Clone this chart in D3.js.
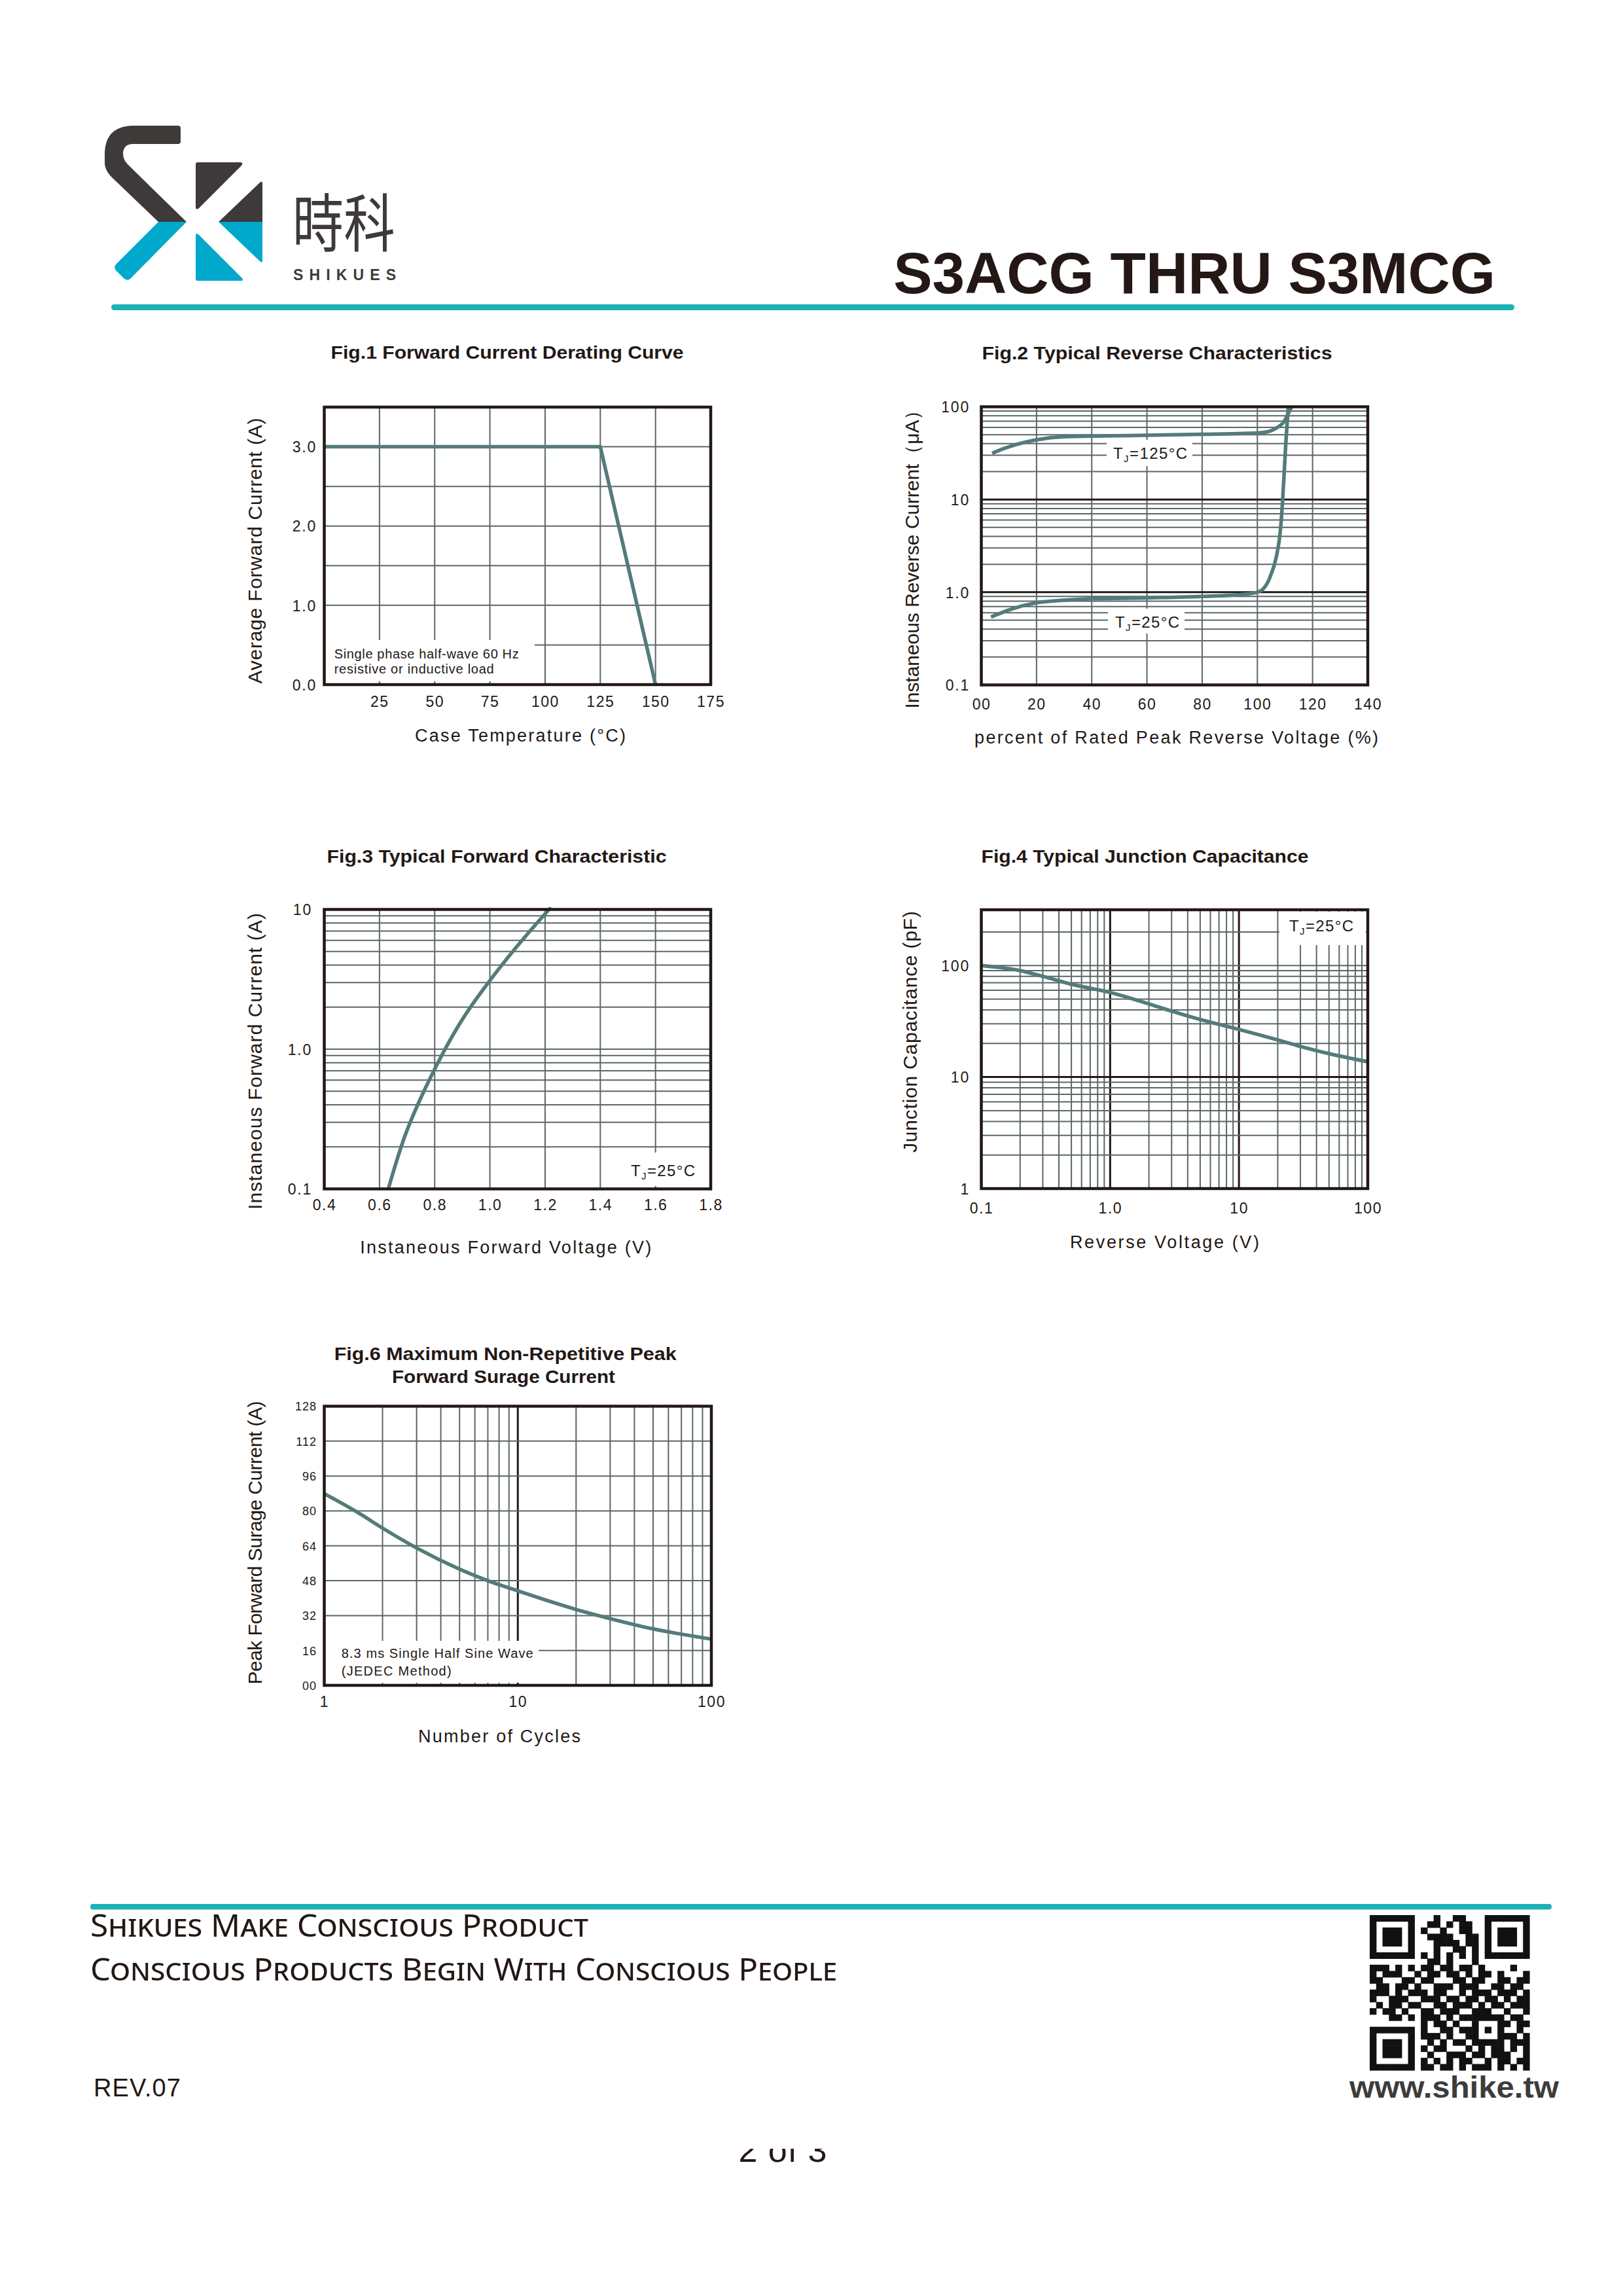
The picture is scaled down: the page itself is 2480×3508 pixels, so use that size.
<!DOCTYPE html>
<html>
<head>
<meta charset="utf-8">
<script src="https://cdn.jsdelivr.net/npm/d3@7"></script>
<style>
  html, body { margin: 0; padding: 0; background: #fff; }
  svg { display: block; background: #fff; }
  text { font-family: "Liberation Sans", Arial, sans-serif; fill: #231815; }
</style>
</head>
<body>
<svg id="page" width="2480" height="3508"></svg>
<script>
// ---------------- data ----------------
// Fig.1 derating curve
const fig1Temp = [0, 125, 150];
const fig1Current = [3.0, 3.0, 0.0];
const fig1XTicks = [25, 50, 75, 100, 125, 150, 175];
const fig1XLabels = ["25", "50", "75", "100", "125", "150", "175"];
const fig1YTicks = [0, 1, 2, 3];
const fig1YLabels = ["0.0", "1.0", "2.0", "3.0"];

// Fig.2 reverse characteristics (% of rated voltage, uA)
const fig2Pct125 = [3.9, 10, 20, 30, 45, 60, 80, 95, 101, 104, 106, 108, 109.5, 110.8, 112.4];
const fig2Cur125 = [31.5, 37, 44, 47.5, 48.5, 49.3, 50.5, 51.5, 52.5, 54, 57, 62, 68, 80, 100];
const fig2Pct25 = [3.5, 10, 20, 30, 40, 60, 80, 95, 100, 101.9, 103.9, 105.1, 106.2, 107.1, 108.3, 109.1, 109.7, 110.3, 111.2];
const fig2Cur25 = [0.54, 0.645, 0.77, 0.82, 0.85, 0.87, 0.90, 0.95, 1.0, 1.07, 1.3, 1.6, 2.0, 2.6, 4.5, 9.3, 19, 40, 100];
const fig2XTicks = [0, 20, 40, 60, 80, 100, 120, 140];
const fig2XLabels = ["00", "20", "40", "60", "80", "100", "120", "140"];
const fig2YTicks = [0.1, 1, 10, 100];
const fig2YLabels = ["0.1", "1.0", "10", "100"];

// Fig.3 forward characteristic (V, A)
const fig3Volt = [0.632, 0.7, 0.8, 0.9, 1.0, 1.1, 1.2, 1.216];
const fig3Cur = [0.1, 0.263, 0.72, 1.63, 3.1, 5.5, 9.3, 10];
const fig3XTicks = [0.4, 0.6, 0.8, 1.0, 1.2, 1.4, 1.6, 1.8];
const fig3XLabels = ["0.4", "0.6", "0.8", "1.0", "1.2", "1.4", "1.6", "1.8"];
const fig3YTicks = [0.1, 1, 10];
const fig3YLabels = ["0.1", "1.0", "10"];

// Fig.4 junction capacitance (V, pF)
const fig4Volt = [0.1, 0.2, 0.3, 0.5, 1, 2, 3, 5, 10, 20, 30, 50, 100];
const fig4Cap = [100, 90, 80, 68, 57.3, 45.3, 39, 32.8, 26.7, 21.5, 18.8, 16.2, 13.7];
const fig4XTicks = [0.1, 1, 10, 100];
const fig4XLabels = ["0.1", "1.0", "10", "100"];
const fig4YTicks = [1, 10, 100];
const fig4YLabels = ["1", "10", "100"];

// Fig.6 surge current (cycles, A)
const fig6Cycles = [1, 1.5, 2, 3, 5, 7, 10, 20, 30, 50, 100];
const fig6Surge = [87.9, 79.1, 72.1, 63, 53.3, 48, 43.3, 34.8, 30.6, 25.9, 21.2];
const fig6XTicks = [1, 10, 100];
const fig6XLabels = ["1", "10", "100"];
const fig6YTicks = [0, 16, 32, 48, 64, 80, 96, 112, 128];
const fig6YLabels = ["00", "16", "32", "48", "64", "80", "96", "112", "128"];

// QR code modules (25 x 25)
const qrRows = [
  "1111111000100110001111111",
  "1000001001101011001000001",
  "1011101010010011001011101",
  "1011101001111001101011101",
  "1011101000111101101011101",
  "1000001000100110101000001",
  "1111111010101010101111111",
  "0000000001101000100000000",
  "1110101011011011010000100",
  "1011100101101101011010001",
  "1100011011000110110011011",
  "0110110100111011100110110",
  "1110101110110010111011101",
  "1001110011101101101101011",
  "0101101100110111010110111",
  "1011010011011100111001001",
  "0001101011101011111110110",
  "0000000010110100100011011",
  "1111111010011011101010010",
  "1000001011101001100011101",
  "1011101001010110111110111",
  "1011101010110001010110101",
  "1011101001001110110111001",
  "1000001010101011001011011",
  "1111111011011010111010101"
];

// ---------------- styling ----------------
const INK = "#231815";
const GRID = "#5b6665";
const CURVE = "#537b79";
const TEAL = "#1cb2b4";

const svg = d3.select("#page");

function addText(g, str, x, y, o) {
  const t = g.append("text")
    .attr("x", x).attr("y", y)
    .attr("font-size", o.size)
    .attr("text-anchor", o.anchor || "start")
    .text(str);
  if (o.bold) t.attr("font-weight", "bold");
  if (o.len) t.attr("textLength", o.len).attr("lengthAdjust", o.adjust || "spacing");
  if (o.family) t.style("font-family", o.family);
  if (o.fill) t.style("fill", o.fill);
  return t;
}

function yTitle(g, str, x, cy, len) {
  g.append("text")
    .attr("transform", `translate(${x},${cy}) rotate(-90)`)
    .attr("text-anchor", "middle")
    .attr("font-size", 30)
    .attr("textLength", len).attr("lengthAdjust", "spacing")
    .text(str);
}

function tjLabel(g, rest, x, y, len) {
  const t = g.append("text").attr("x", x).attr("y", y).attr("font-size", 24)
    .attr("textLength", len).attr("lengthAdjust", "spacing");
  t.append("tspan").text("T");
  t.append("tspan").attr("font-size", 15).attr("dy", 5).text("J");
  t.append("tspan").attr("dy", -5).text(rest);
}

function drawPanel(p) {
  const g = svg.append("g");
  const x = p.x, y = p.y;
  const [L, R] = x.range();
  const [B, T] = y.range();

  // gridlines
  const xg = p.xGrid.filter(d => x(d) > L + 6 && x(d) < R - 6);
  g.append("g").selectAll("line").data(xg).join("line")
    .attr("x1", d => x(d)).attr("x2", d => x(d))
    .attr("y1", T).attr("y2", B)
    .attr("stroke", d => (p.xMajor || []).includes(d) ? INK : GRID)
    .attr("stroke-width", d => (p.xMajor || []).includes(d) ? 3 : 2);
  const yg = p.yGrid.filter(d => y(d) < B - 6 && y(d) > T + 6);
  g.append("g").selectAll("line").data(yg).join("line")
    .attr("y1", d => y(d)).attr("y2", d => y(d))
    .attr("x1", L).attr("x2", R)
    .attr("stroke", d => (p.yMajor || []).includes(d) ? INK : GRID)
    .attr("stroke-width", d => (p.yMajor || []).includes(d) ? 3 : 2);

  // white boxes behind annotations
  (p.boxes || []).forEach(b => {
    g.append("rect").attr("x", b[0]).attr("y", b[1])
      .attr("width", b[2] - b[0]).attr("height", b[3] - b[1]).attr("fill", "#fff");
  });

  // curves
  const line = d3.line()
    .x(d => x(d[0])).y(d => y(d[1]))
    .curve(p.curve || d3.curveMonotoneX);
  p.series.forEach(s => {
    g.append("path").datum(d3.zip(s[0], s[1]))
      .attr("d", line)
      .attr("fill", "none").attr("stroke", CURVE)
      .attr("stroke-width", 5.5).attr("stroke-linejoin", "round");
  });

  // frame
  g.append("rect").attr("x", L).attr("y", T)
    .attr("width", R - L).attr("height", B - T)
    .attr("fill", "none").attr("stroke", INK).attr("stroke-width", 4.5);

  // tick labels
  const ax = g.append("g").attr("transform", `translate(0,${B})`)
    .call(d3.axisBottom(x).tickValues(p.xTicks).tickFormat((d, i) => p.xLabels[i]).tickSize(0));
  ax.select(".domain").remove();
  ax.selectAll("text").attr("y", p.xTickY - B).attr("dy", null)
    .attr("font-size", 23).attr("letter-spacing", 1.5);

  const ay = g.append("g").attr("transform", `translate(${p.yTickX},0)`)
    .call(d3.axisLeft(y).tickValues(p.yTicks).tickFormat((d, i) => p.yLabels[i]).tickSize(0).tickPadding(0));
  ay.select(".domain").remove();
  ay.selectAll("text").attr("x", 0).attr("dy", "0.36em")
    .attr("font-size", p.yTickSize || 23).attr("letter-spacing", p.yTickSize ? 1 : 1.8);

  return g;
}

// ---------------- Fig.1 ----------------
{
  const x = d3.scaleLinear().domain([0, 175]).range([495.5, 1086]);
  const y = d3.scaleLinear().domain([0, 3.5]).range([1046, 622]);
  const g = drawPanel({
    x, y, curve: d3.curveLinear,
    xGrid: d3.range(25, 175, 25), yGrid: d3.range(0.5, 3.5, 0.5),
    boxes: [[498, 978, 817, 1041]],
    series: [[fig1Temp, fig1Current]],
    xTicks: fig1XTicks, xLabels: fig1XLabels, xTickY: 1080,
    yTicks: fig1YTicks, yLabels: fig1YLabels, yTickX: 484
  });
  addText(g, "Fig.1  Forward Current Derating Curve", 505.6, 548, { size: 28, bold: true, len: 539, adjust: "spacingAndGlyphs" });
  addText(g, "Case Temperature (\u00B0C)", 795, 1133, { size: 27, anchor: "middle", len: 322 });
  yTitle(g, "Average Forward Current (A)", 399.5, 841.5, 406);
  addText(g, "Single phase half-wave 60 Hz", 510.7, 1006, { size: 20, len: 282 });
  addText(g, "resistive or inductive load", 510.7, 1029, { size: 20, len: 244 });
}

// ---------------- Fig.2 ----------------
{
  const x = d3.scaleLinear().domain([0, 140]).range([1499.5, 2090]);
  const y = d3.scaleLog().domain([0.1, 100]).range([1046.5, 621.5]);
  const g = drawPanel({
    x, y,
    xGrid: d3.range(20, 140, 20), yGrid: y.ticks(), yMajor: [1, 10],
    boxes: [[1691, 672, 1822, 712], [1693, 930, 1810, 968]],
    series: [[fig2Pct125, fig2Cur125], [fig2Pct25, fig2Cur25]],
    xTicks: fig2XTicks, xLabels: fig2XLabels, xTickY: 1084,
    yTicks: fig2YTicks, yLabels: fig2YLabels, yTickX: 1482
  });
  addText(g, "Fig.2  Typical Reverse Characteristics", 1500.5, 549, { size: 28, bold: true, len: 535, adjust: "spacingAndGlyphs" });
  addText(g, "percent of Rated  Peak Reverse Voltage (%)", 1797.6, 1136, { size: 27, anchor: "middle", len: 617 });
  yTitle(g, "Instaneous Reverse Current\uFF08\u03BCA\uFF09", 1404, 847, 471);
  tjLabel(g, "=125\u00B0C", 1701, 701, 113);
  tjLabel(g, "=25\u00B0C", 1704, 958.5, 98);
}

// ---------------- Fig.3 ----------------
{
  const x = d3.scaleLinear().domain([0.4, 1.8]).range([495.5, 1086]);
  const y = d3.scaleLog().domain([0.1, 10]).range([1816.5, 1389.5]);
  const g = drawPanel({
    x, y, curve: d3.curveNatural,
    xGrid: d3.range(0.6, 1.7, 0.2), yGrid: y.ticks(),
    boxes: [[960, 1761, 1064, 1812]],
    series: [[fig3Volt, fig3Cur]],
    xTicks: fig3XTicks, xLabels: fig3XLabels, xTickY: 1849,
    yTicks: fig3YTicks, yLabels: fig3YLabels, yTickX: 477
  });
  addText(g, "Fig.3  Typical Forward Characteristic", 499.5, 1318, { size: 28, bold: true, len: 519, adjust: "spacingAndGlyphs" });
  addText(g, "Instaneous Forward Voltage (V)", 772.7, 1915, { size: 27, anchor: "middle", len: 445 });
  yTitle(g, "Instaneous Forward Current  (A)", 399.5, 1621.5, 453);
  tjLabel(g, "=25\u00B0C", 964, 1797, 98);
}

// ---------------- Fig.4 ----------------
{
  const x = d3.scaleLog().domain([0.1, 100]).range([1499.5, 2090]);
  const y = d3.scaleLog().domain([1, 316.2]).range([1816, 1390]);
  const g = drawPanel({
    x, y,
    xGrid: x.ticks(), xMajor: [1, 10], yGrid: y.ticks(), yMajor: [10],
    boxes: [[1955, 1393, 2087, 1444]],
    series: [[fig4Volt, fig4Cap]],
    xTicks: fig4XTicks, xLabels: fig4XLabels, xTickY: 1854,
    yTicks: fig4YTicks, yLabels: fig4YLabels, yTickX: 1482
  });
  addText(g, "Fig.4  Typical Junction Capacitance", 1499.5, 1318, { size: 28, bold: true, len: 500, adjust: "spacingAndGlyphs" });
  addText(g, "Reverse  Voltage (V)", 1779.5, 1906.6, { size: 27, anchor: "middle", len: 289 });
  yTitle(g, "Junction Capacitance (pF)", 1401, 1576.6, 369);
  tjLabel(g, "=25\u00B0C", 1970, 1423, 98);
}

// ---------------- Fig.6 ----------------
{
  const x = d3.scaleLog().domain([1, 100]).range([495.5, 1087]);
  const y = d3.scaleLinear().domain([0, 128]).range([2575, 2148.5]);
  const g = drawPanel({
    x, y,
    xGrid: x.ticks(), xMajor: [10], yGrid: d3.range(16, 128, 16),
    boxes: [[498, 2507, 823, 2571]],
    series: [[fig6Cycles, fig6Surge]],
    xTicks: fig6XTicks, xLabels: fig6XLabels, xTickY: 2607.7,
    yTicks: fig6YTicks, yLabels: fig6YLabels, yTickX: 484, yTickSize: 18
  });
  addText(g, "Fig.6  Maximum Non-Repetitive Peak", 510.7, 2078, { size: 28, bold: true, len: 523, adjust: "spacingAndGlyphs" });
  addText(g, "Forward Surage Current", 599, 2113, { size: 28, bold: true, len: 341, adjust: "spacingAndGlyphs" });
  addText(g, "Number of Cycles", 763, 2662, { size: 27, anchor: "middle", len: 248 });
  yTitle(g, "Peak Forward Surage Current (A)", 399.5, 2357, 433);
  addText(g, "8.3 ms Single Half Sine Wave", 521.7, 2533, { size: 20, len: 293 });
  addText(g, "(JEDEC Method)", 521.7, 2560, { size: 20, len: 168 });
}

// ---------------- header ----------------
{
  const g = svg.append("g");
  const DARK = "#3e3a39", BLUE = "#00a9cc";
  g.append("path").attr("fill", DARK)
    .attr("d", "M272,192 L203,192 Q160,193 160,236 L160,250 Q161,262 172,272 L242,339 L285,339 L195,251 Q188,244 188,234 Q189,220 203,220 L272,220 Q276,220 276,216 L276,196 Q276,192 272,192 Z");
  g.append("path").attr("fill", BLUE)
    .attr("d", "M242,339 L285,339 L199,426 Q194,430 189,425 L177,413 Q173,408 178,403 Z");
  g.append("path").attr("fill", DARK)
    .attr("d", "M302,248 L368,248 Q372,249 369,253 L304,318 Q299,322 299,316 L299,251 Q299,248 302,248 Z");
  g.append("path").attr("fill", DARK)
    .attr("d", "M397,279 Q401,275 401,281 L401,339 L334,339 Z");
  g.append("path").attr("fill", BLUE)
    .attr("d", "M334,339 L401,339 L401,398 Q401,403 397,399 Z");
  g.append("path").attr("fill", BLUE)
    .attr("d", "M299,360 Q299,355 303,358 L370,425 Q373,429 368,429 L302,429 Q299,429 299,426 Z");

  addText(g, "\u6642\u79D1", 446.7, 376, { size: 96, len: 157, adjust: "spacingAndGlyphs",
    family: '"Noto Sans CJK TC", "Noto Sans CJK SC", sans-serif', fill: DARK });
  addText(g, "SHIKUES", 448, 428.3, { size: 23, bold: true, len: 157, fill: DARK });

  addText(g, "S3ACG THRU S3MCG", 2285, 448, { size: 89, bold: true, anchor: "end" });

  g.append("rect").attr("x", 170).attr("y", 465).attr("width", 2144).attr("height", 9)
    .attr("rx", 4.5).attr("fill", TEAL);
}

// ---------------- footer ----------------
{
  const g = svg.append("g");
  g.append("rect").attr("x", 138).attr("y", 2909).attr("width", 2233).attr("height", 8.5)
    .attr("rx", 4).attr("fill", TEAL);

  addText(g, "Shikues Make Conscious Product", 138, 2959, { size: 48, len: 761, adjust: "spacingAndGlyphs",
    family: '"Noto Sans", "DejaVu Sans", sans-serif' }).style("font-variant", "small-caps");
  addText(g, "Conscious Products Begin With Conscious People", 138, 3026, { size: 48, len: 1141, adjust: "spacingAndGlyphs",
    family: '"Noto Sans", "DejaVu Sans", sans-serif' }).style("font-variant", "small-caps");

  addText(g, "REV.07", 143, 3203, { size: 38, len: 133 });

  // QR code
  const qx = d3.scaleBand().domain(d3.range(25)).range([2093, 2337]);
  const qy = d3.scaleBand().domain(d3.range(25)).range([2926, 3163]);
  const cells = [];
  qrRows.forEach((row, r) => row.split("").forEach((c, k) => { if (c === "1") cells.push([r, k]); }));
  g.append("g").selectAll("rect").data(cells).join("rect")
    .attr("x", d => qx(d[1])).attr("y", d => qy(d[0]))
    .attr("width", qx.bandwidth() + 0.6).attr("height", qy.bandwidth() + 0.6)
    .attr("fill", "#111");

  addText(g, "www.shike.tw", 2062, 3205, { size: 46, bold: true, len: 320, adjust: "spacingAndGlyphs", fill: "#3c3c3c" });

  // page number, only its lower part shows on the sheet
  svg.append("clipPath").attr("id", "pgclip")
    .append("rect").attr("x", 1100).attr("y", 3283).attr("width", 200).attr("height", 40);
  addText(g, "2 of 3", 1196, 3303, { size: 52, anchor: "middle", len: 135 }).attr("clip-path", "url(#pgclip)");
}
</script>
</body>
</html>
